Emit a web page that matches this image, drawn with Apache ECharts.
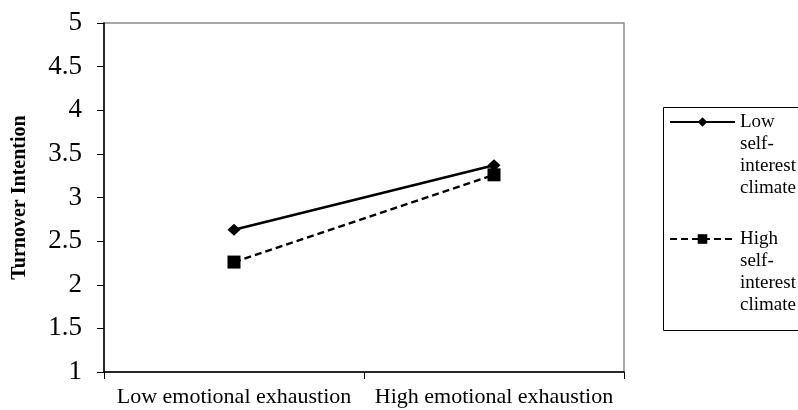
<!DOCTYPE html>
<html>
<head>
<meta charset="utf-8">
<script src="https://cdn.jsdelivr.net/npm/echarts@6/dist/echarts.min.js"></script>
<style>
  html, body { margin: 0; padding: 0; background: #fff; }
  #chart { width: 798px; height: 410px; }
</style>
</head>
<body>
<div id="chart"></div>
<script>
const categories = ['Low emotional exhaustion', 'High emotional exhaustion'];
const lowClimate = [2.63, 3.37];
const highClimate = [2.26, 3.26];
const seriesNames = ['Low self-interest climate', 'High self-interest climate'];
const yTicks = { min: 1, max: 5, step: 0.5 };

const chart = echarts.init(document.getElementById('chart'), null, { renderer: 'canvas' });
const font = 'Liberation Serif';
const lineH = 22;
// three blank lines on top so that the first word sits level with the icon
const legendText = function (name) {
    return '\n\n\n' + name.replace('self-', 'self- ').split(' ').join('\n');
};
const legendFor = function (name, iconY) {
    return {
        orient: 'vertical',
        left: 669,
        top: iconY - 77,
        itemWidth: 65,
        itemHeight: 12,
        padding: 0,
        formatter: legendText,
        textStyle: { fontFamily: font, fontSize: 19, color: '#000', lineHeight: lineH },
        data: [name]
    };
};

const option = {
    animation: false,
    backgroundColor: '#fff',
    textStyle: { fontFamily: font, color: '#000' },
    grid: {
        left: 104,
        right: 174,
        top: 23,
        bottom: 38,
        show: true,
        borderColor: '#8a8a8a',
        borderWidth: 1.5
    },
    legend: [legendFor(seriesNames[0], 122), legendFor(seriesNames[1], 239)],
    graphic: [{
        type: 'rect',
        left: 661,
        top: 105,
        shape: { width: 200, height: 223 },
        style: { fill: 'none', stroke: '#000', lineWidth: 1 },
        z: 0
    }],
    xAxis: {
        type: 'category',
        data: categories,
        boundaryGap: true,
        axisLine: { lineStyle: { color: '#000', width: 1.5 } },
        axisTick: { show: true, alignWithLabel: false, length: 7, lineStyle: { color: '#000' } },
        axisLabel: { fontFamily: font, fontSize: 22, color: '#000', margin: 14, interval: 0, hideOverlap: false },
        splitLine: { show: false }
    },
    yAxis: {
        type: 'value',
        min: yTicks.min,
        max: yTicks.max,
        interval: yTicks.step,
        name: 'Turnover Intention',
        nameLocation: 'middle',
        nameRotate: 90,
        nameGap: 74,
        nameTextStyle: { fontFamily: font, fontSize: 20, fontWeight: 'bold', color: '#000' },
        axisLine: { show: true, lineStyle: { color: '#000', width: 1.5 } },
        axisTick: { show: true, length: 7, lineStyle: { color: '#000' } },
        axisLabel: { fontFamily: font, fontSize: 27, color: '#000', margin: 22 },
        splitLine: { show: false }
    },
    series: [
        {
            name: seriesNames[0],
            type: 'line',
            data: lowClimate,
            symbol: 'diamond',
            symbolSize: [13, 12],
            itemStyle: { color: '#000' },
            lineStyle: { color: '#000', width: 2.5, type: 'solid' }
        },
        {
            name: seriesNames[1],
            type: 'line',
            data: highClimate,
            symbol: 'rect',
            symbolSize: 13,
            itemStyle: { color: '#000' },
            lineStyle: { color: '#000', width: 2.5, type: [7, 4] }
        }
    ]
};

chart.setOption(option);
</script>
</body>
</html>
